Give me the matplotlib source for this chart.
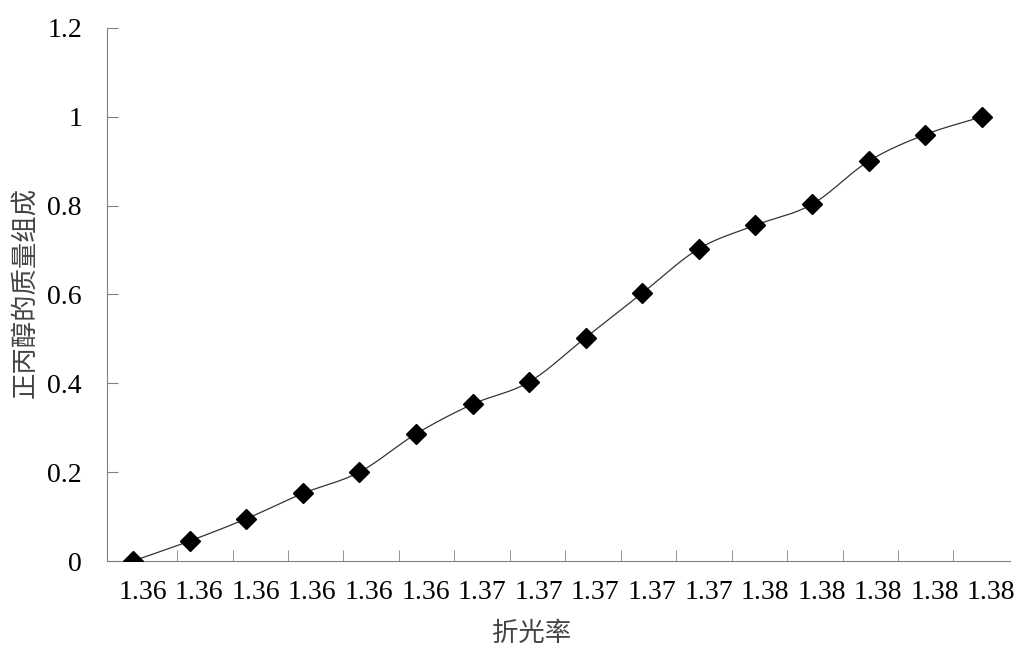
import numpy as np
import matplotlib
matplotlib.use('Agg')
import matplotlib.pyplot as plt

# refractive index labels (category axis) and n-propanol mass fraction
labels = ['1.36'] * 6 + ['1.37'] * 5 + ['1.38'] * 5
mass_frac = [0, 0.045, 0.095, 0.152, 0.2, 0.286, 0.353, 0.403,
             0.503, 0.603, 0.703, 0.756, 0.803, 0.9, 0.96, 1.0]

plt.rcParams['font.family'] = ['Liberation Serif', 'Noto Sans CJK SC']

def smooth(x, y, n=20):
    # Catmull-Rom curve through the points, like Excel's smoothed line
    x = np.asarray(x, float); y = np.asarray(y, float)
    px = np.concatenate([[2*x[0]-x[1]], x, [2*x[-1]-x[-2]]])
    py = np.concatenate([[2*y[0]-y[1]], y, [2*y[-1]-y[-2]]])
    xs, ys = [], []
    t = np.linspace(0, 1, n)
    for i in range(1, len(px) - 2):
        for p, out in ((px, xs), (py, ys)):
            p0, p1, p2, p3 = p[i-1], p[i], p[i+1], p[i+2]
            out.extend(0.5*((2*p1) + (-p0+p2)*t + (2*p0-5*p1+4*p2-p3)*t**2
                            + (-p0+3*p1-3*p2+p3)*t**3))
    return xs, ys

x = np.arange(len(mass_frac))

fig = plt.figure(figsize=(10.2, 6.54), dpi=100)
ax = fig.add_axes([0.1049, 0.1422, 0.8853, 0.8150])

sx, sy = smooth(x, mass_frac)
ax.plot(sx, sy, color='#333333', lw=0.9, zorder=2)
ax.plot(x, mass_frac, ls='none', marker='D', ms=10, color='black', zorder=3)

ax.set_xlim(-0.46, 15.5)
ax.set_ylim(0, 1.2)
ax.set_yticks([0, 0.2, 0.4, 0.6, 0.8, 1.0, 1.2])
ax.set_yticklabels(['0', '0.2', '0.4', '0.6', '0.8', '1', '1.2'])

ax.set_xticks(x + 0.17)
ax.set_xticklabels(labels)
ax.set_xticks(np.linspace(0.78, 14.5, 15), minor=True)
ax.tick_params(axis='x', which='major', length=0, pad=14, labelsize=20)
ax.tick_params(axis='x', which='minor', direction='in', length=8, color='#808080')
ax.tick_params(axis='y', direction='in', length=8, color='#808080', pad=18, labelsize=20)

for s in ['top', 'right']:
    ax.spines[s].set_visible(False)
for s in ['left', 'bottom']:
    ax.spines[s].set_color('#808080')

ax.set_xlabel('折光率', fontsize=19, color='#444444')
ax.set_ylabel('正丙醇的质量组成', fontsize=19, color='#444444')
ax.xaxis.set_label_coords(0.47, -0.137)
ax.yaxis.set_label_coords(-0.091, 0.503)
ax.xaxis.label.set_va('center')
ax.yaxis.label.set_va('center')

fig.savefig('out.png', dpi=100)
